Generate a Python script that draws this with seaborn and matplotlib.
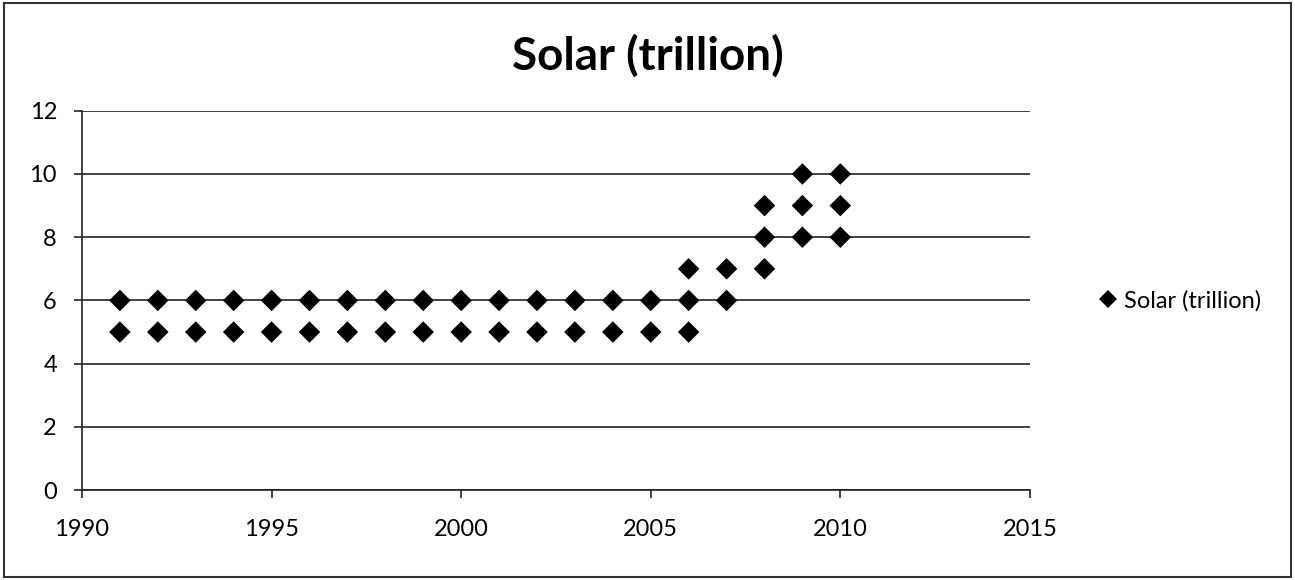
import pandas as pd
import matplotlib.pyplot as plt
import seaborn as sns

# data
years_56 = list(range(1991, 2006))
years = years_56 * 2 + [2006, 2006, 2006, 2007, 2007, 2008, 2008, 2008, 2009, 2009, 2009, 2010, 2010, 2010]
values = [5] * 15 + [6] * 15 + [5, 6, 7, 6, 7, 7, 8, 9, 8, 9, 10, 8, 9, 10]
series_name = 'Solar (trillion)'

df = pd.DataFrame({'year': years, 'value': values, 'series': series_name})

sns.set_style('white')
plt.rcParams['font.family'] = ['Lato', 'DejaVu Sans']
plt.rcParams['text.color'] = 'black'

fig = plt.figure(figsize=(12.95, 5.8), dpi=100)
ax = fig.add_axes([0.0633, 0.155, 0.732, 0.654])

sns.scatterplot(data=df, x='year', y='value', hue='series', palette=['black'],
                marker='D', s=120, edgecolor='black', linewidth=0, ax=ax, zorder=3)

ax.set_xlim(1990, 2015)
ax.set_ylim(0, 12)
ax.set_xticks(range(1990, 2016, 5))
ax.set_yticks(range(0, 13, 2))
ax.grid(axis='y', color='#222222', linewidth=1.2)
ax.set_axisbelow(True)
for s in ['top', 'right']:
    ax.spines[s].set_visible(False)
for s in ['left', 'bottom']:
    ax.spines[s].set_color('#222222')
    ax.spines[s].set_linewidth(1.2)
ax.tick_params(axis='both', direction='out', length=6, width=1.2, colors='#222222',
               labelsize=17, labelcolor='black', bottom=True, left=True)
ax.tick_params(axis='x', pad=15)
ax.tick_params(axis='y', pad=12)
ax.set_xlabel('')
ax.set_ylabel('')

fig.text(0.5, 0.903, series_name, ha='center', va='center', fontsize=33, fontweight='bold', color='black')

leg = ax.legend(loc='center left', bbox_to_anchor=(1.035, 0.5), frameon=False,
                fontsize=17, handletextpad=-0.3, markerscale=0.8)
for t in leg.get_texts():
    t.set_color('black')

# outer border like the exported chart
fig.patches.append(plt.Rectangle((0.003, 0.005), 0.994, 0.99, transform=fig.transFigure,
                                 fill=False, edgecolor='#333333', linewidth=1.5))

plt.savefig('out.png', dpi=100)
